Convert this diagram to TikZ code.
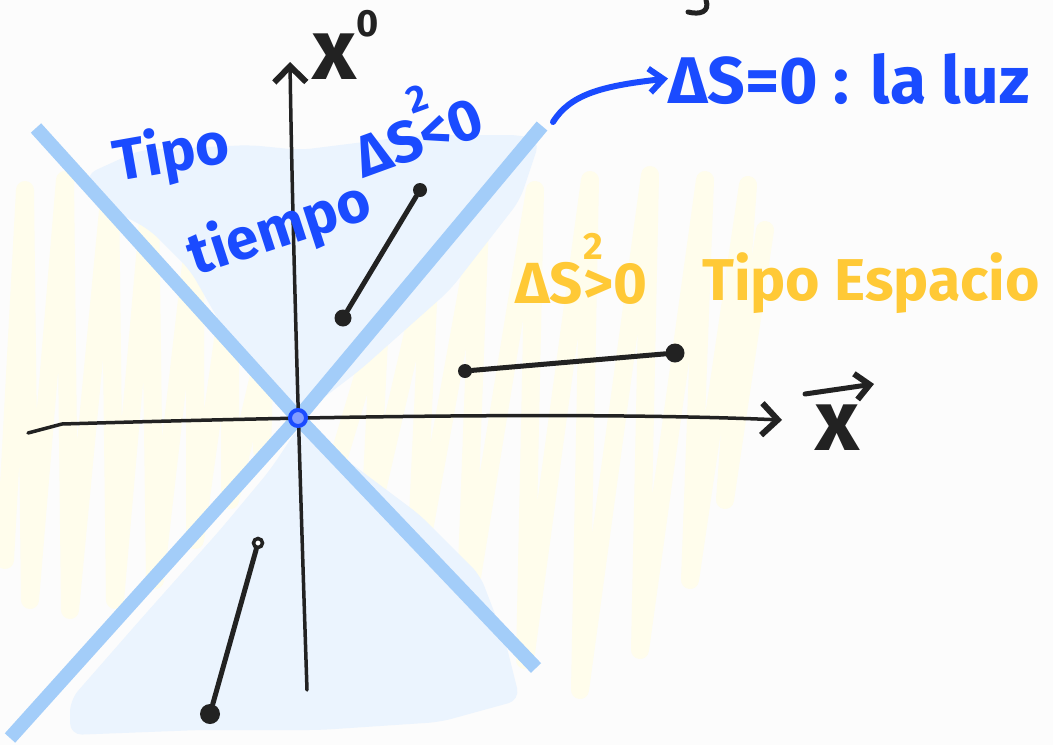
\documentclass[tikz,border=0pt]{standalone}
\usepackage{fontspec}
\setmainfont{Fira Sans}
\usetikzlibrary{arrows.meta}
\definecolor{bg}{HTML}{FCFCFC}
\definecolor{conecol}{HTML}{A3CDF9}
\definecolor{tblue}{HTML}{1A4BFF}
\definecolor{tyellow}{HTML}{FFC936}
\definecolor{hatchblue}{HTML}{EBF4FE}
\definecolor{hatchyellow}{HTML}{FFFDEC}
\definecolor{ink}{HTML}{222222}
\tikzset{
  cone/.style={draw=conecol, line width=14pt},
  axisline/.style={draw=ink, line width=3.5pt, line cap=round, line join=round},
  seg/.style={draw=ink, line width=5pt, line cap=round},
  dot/.style={circle, fill=ink, inner sep=0pt, minimum size=17pt},
  hatchy/.style={draw=hatchyellow, line width=18pt, line join=round, line cap=round},
  hatchb/.style={fill=hatchblue, rounded corners=12pt},
  bluetext/.style={text=tblue, inner sep=0pt, font=\fontsize{58}{58}\selectfont\bfseries},
  yellowtext/.style={text=tyellow, inner sep=0pt, font=\fontsize{58}{58}\selectfont\bfseries},
  inktext/.style={text=ink, inner sep=0pt, font=\fontsize{86}{86}\selectfont\bfseries},
  barb/.style={-{Straight Barb[length=16pt,width=32pt,line width=6pt]}},
}
\newcommand{\suptwo}[1]{\rlap{\raisebox{#1}{\fontsize{38}{38}\selectfont\bfseries 2}}}
\begin{document}
\begin{tikzpicture}[x=1pt,y=-1pt]
\fill[bg] (0,0) rectangle (1053,745);
\useasboundingbox (0,0) rectangle (1053,745);

% faint yellow hatching (space-like regions)
\draw[hatchy] (5,560)--(25,190)--(30,600)--(65,180)--(70,610)--(110,190)--(115,600)--(150,200)--(155,580)--(195,230)--(195,540)--(230,290)--(230,500)--(265,350)--(262,450);
\draw[hatchy] (335,470)--(380,320)--(370,520)--(430,260)--(415,580)--(480,220)--(465,620)--(535,190)--(525,660)--(590,180)--(580,690)--(650,175)--(640,650)--(705,180)--(690,580)--(748,185)--(725,500)--(765,230);

% faint blue hatching (time-like regions)
\fill[hatchb] (85,175)--(140,150)--(250,145)--(300,150)--(420,135)--(520,135)--(540,140)--(520,200)--(450,290)--(360,370)--(305,412)--(290,400)--(230,340)--(190,270)--(150,230)--(95,200)--cycle;
\fill[hatchb] (300,425)--(340,455)--(420,515)--(480,575)--(505,640)--(520,700)--(440,722)--(320,730)--(200,730)--(70,735)--(70,700)--(140,620)--(220,530)--(270,470)--cycle;

% light cone
\coordinate (o) at (298,418);
\coordinate (c1a) at (36,128);
\coordinate (c1b) at (536,668);
\coordinate (c2a) at (542,126);
\coordinate (c2b) at (10,738);
\draw[cone] (c1a) -- (o) -- (c1b);
\draw[cone] (c2a) -- (o) -- (c2b);

% axes
\coordinate (ybot) at (307,690);
\coordinate (ytop) at (290,62);
\draw[axisline, barb] (ybot) .. controls (298,420) and (292,200) .. (ytop);
\coordinate (xl) at (28,433);
\coordinate (xr) at (782,420);
\draw[axisline, barb] (xl) -- (62,424) .. controls (200,420) and (550,410) .. (xr);

% origin event
\node[circle, draw=tblue, fill=tblue!55, line width=4pt, minimum size=16pt, inner sep=0pt] (origin) at (o) {};

% intervals
\node[dot] (ta) at (343,318) {};
\node[dot, minimum size=14pt] (tb) at (420,190) {};
\draw[seg] (ta) -- (tb);
\node[dot, minimum size=14pt] (sa) at (465,371) {};
\node[dot, minimum size=19pt] (sb) at (675,353) {};
\draw[seg] (sa) -- (sb);
\node[circle, draw=ink, line width=3.5pt, fill=white, minimum size=9pt, inner sep=0pt] (ba) at (258,543) {};
\node[dot, minimum size=20pt] (bb) at (210,714) {};
\draw[seg] (ba) -- (bb);

% small cut-off stroke at the top
\draw[ink, line width=5pt, line cap=round] (706,0) .. controls (710,12) and (700,15) .. (688,12);

% axis labels
\node[inktext] (x0) at (346,45) {x\raisebox{0.5em}{\fontsize{38}{38}\selectfont\bfseries 0}};
\node[inktext] (xv) at (838,428) {x};
\coordinate (va) at (805,394);
\coordinate (vb) at (874,384);
\draw[ink, line width=5pt, line cap=round, -{Straight Barb[length=14pt,width=26pt,line width=6pt]}] (va) -- (vb);

% light label
\node[bluetext, anchor=base west, font=\fontsize{66}{66}\selectfont\bfseries] (luz) at (668,103) {ΔS=0 : la luz};
\coordinate (arrs) at (553,122);
\draw[tblue, line width=6pt, line cap=round, -{Straight Barb[length=14pt,width=24pt,line width=6pt]}] (arrs) .. controls (570,95) and (600,86) .. (luz.west);

% time-like labels
\node[bluetext, rotate=10] (tipo1) at (172,155) {Tipo};
\node[bluetext, rotate=18] (tiempo) at (280,230) {tiempo};
\node[bluetext, rotate=20] (ds1) at (414,124) {ΔS\suptwo{0.75em}<0};

% space-like labels
\node[yellowtext, anchor=base west] (ds2) at (515,303) {ΔS\suptwo{0.75em}>0};
\node[yellowtext, anchor=base west, font=\fontsize{59}{59}\selectfont\bfseries] (tipo2) at (702,300) {Tipo Espacio};
\end{tikzpicture}
\end{document}
